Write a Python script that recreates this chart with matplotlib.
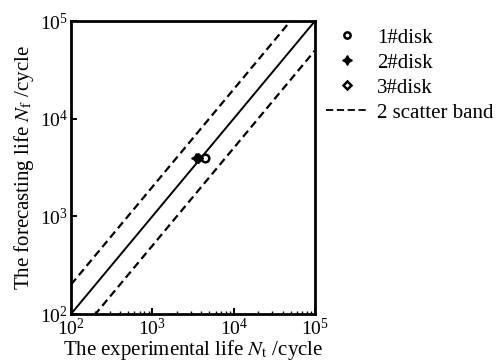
import matplotlib
matplotlib.use("Agg")
import matplotlib.pyplot as plt
import numpy as np
from matplotlib.lines import Line2D

plt.rcParams['font.family'] = ['Liberation Serif', 'DejaVu Serif']
plt.rcParams['mathtext.fontset'] = 'stix'

# Data
disk_labels = ["1#disk", "2#disk", "3#disk"]
exp_life = [4400, 3450, 3650]
fore_life = [3950, 3950, 3950]
band_factor = 2
axis_min, axis_max = 1e2, 1e5

fig = plt.figure(figsize=(4.96, 3.62), dpi=100)
ax = fig.add_axes([71/496, 1 - 314/362, 244/496, 293/362])

xs = np.array([axis_min, axis_max])
dash = (0, (3.5, 2))
ax.plot(xs, xs, color='black', lw=1.4)
ax.plot(xs, xs * band_factor, color='black', lw=1.6, ls=dash)
ax.plot(xs, xs / band_factor, color='black', lw=1.6, ls=dash)

star4 = (4, 1, 0)
ax.plot(exp_life[0], fore_life[0], 'o', mfc='white', mec='black', mew=1.8, ms=5.5, zorder=5)
ax.plot(exp_life[1], fore_life[1], marker=star4, ls='none', mfc='black', mec='black', ms=7, zorder=5)
ax.plot(exp_life[2], fore_life[2], 'D', mfc='black', mec='black', ms=5, zorder=5)

ax.set_xscale('log')
ax.set_yscale('log')
ax.set_xlim(axis_min, axis_max)
ax.set_ylim(axis_min, axis_max)
ax.set_xticks([1e2, 1e3, 1e4, 1e5])
ax.set_yticks([1e2, 1e3, 1e4, 1e5])
ax.tick_params(which='both', direction='in', labelsize=14, top=False, right=False)
ax.tick_params(which='major', length=4, width=1.4)
ax.tick_params(which='minor', length=2, width=1.0)
ax.tick_params(axis='y', which='minor', left=False)
ax.tick_params(axis='x', pad=3)
ax.tick_params(axis='y', pad=2)
for s in ax.spines.values():
    s.set_linewidth(2.0)

ax.set_xlabel(r"The experimental life $N_{\mathrm{t}}$ /cycle", fontsize=15, labelpad=-1)
ax.set_ylabel(r"The forecasting life $N_{\mathrm{f}}$ /cycle", fontsize=15, labelpad=3)

handles = [
    Line2D([], [], marker='o', ls='none', mfc='white', mec='black', mew=1.8, ms=4.5),
    Line2D([], [], marker=star4, ls='none', mfc='black', mec='black', ms=7),
    Line2D([], [], marker='D', ls='none', mfc='white', mec='black', mew=1.8, ms=4.5),
    Line2D([], [], color='black', lw=1.3, ls=(0, (4, 2))),
]
labels = disk_labels + ["2 scatter band"]
fig.legend(handles, labels, loc='upper left', bbox_to_anchor=(326/496, 1 - 28/362),
           frameon=False, fontsize=15, handlelength=2.0, handletextpad=0.45,
           labelspacing=0.26, borderaxespad=0, borderpad=0)

fig.savefig("out.png", dpi=100)
